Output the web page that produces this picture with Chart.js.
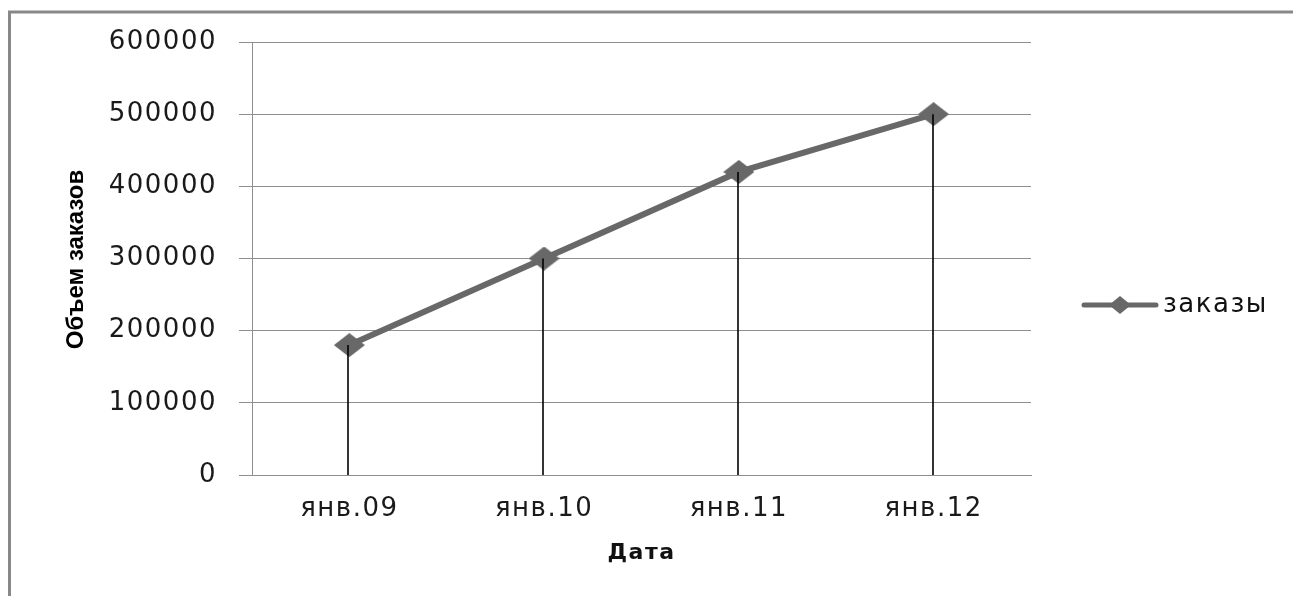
<!DOCTYPE html>
<html>
<head>
<meta charset="utf-8">
<script src="https://cdn.jsdelivr.net/npm/chart.js"></script>
<style>
  html, body { margin: 0; padding: 0; background: #fff; }
  #wrap { width: 1293px; height: 596px; position: relative; }
</style>
</head>
<body>
<div id="wrap"><canvas id="c"></canvas></div>
<script>
// data
const dates = ['янв.09', 'янв.10', 'янв.11', 'янв.12'];
const orders = [180000, 300000, 420000, 500000];
const seriesName = 'заказы';
const yTitle = 'Объем заказов';
const xTitle = 'Дата';

const lineColor = '#686868';
const gridColor = '#8f8f8f';

// the original picture is a bit wide, so the marker is a flat diamond
function makeDiamond(w, h, color) {
  const cv = document.createElement('canvas');
  cv.width = w;
  cv.height = h;
  const g = cv.getContext('2d');
  g.fillStyle = color;
  g.beginPath();
  g.moveTo(w / 2, 0);
  g.lineTo(w, h / 2);
  g.lineTo(w / 2, h);
  g.lineTo(0, h / 2);
  g.closePath();
  g.fill();
  return cv;
}
const marker = makeDiamond(31, 24, lineColor);
const legendMarker = makeDiamond(22, 18, lineColor);

// wider text spacing, as in the picture
const spacing = {
  id: 'spacing',
  beforeUpdate(chart) { chart.ctx.letterSpacing = '1.5px'; },
  beforeDraw(chart) { chart.ctx.letterSpacing = '1.5px'; }
};

// grey frame round the chart (only top and left are in the picture)
const framePlugin = {
  id: 'frame',
  beforeDraw(chart) {
    const c = chart.ctx;
    c.save();
    c.fillStyle = '#fff';
    c.fillRect(0, 0, chart.width, chart.height);
    c.strokeStyle = '#888';
    c.lineWidth = 3;
    c.strokeRect(9.5, 12, chart.width + 20, chart.height + 20);
    c.restore();
  }
};

// black drop lines from each point to the x axis
const dropLines = {
  id: 'dropLines',
  afterDatasetsDraw(chart) {
    const c = chart.ctx;
    const x = chart.scales.x, y = chart.scales.y;
    c.save();
    c.strokeStyle = '#000';
    c.lineWidth = 1.6;
    orders.forEach((v, i) => {
      const px = Math.round(x.getPixelForValue(i)) - 1;
      c.beginPath();
      c.moveTo(px, y.getPixelForValue(v));
      c.lineTo(px, y.getPixelForValue(0));
      c.stroke();
    });
    c.restore();
  }
};

// y title drawn by hand so it keeps normal spacing
const yTitlePlugin = {
  id: 'yTitle',
  afterDraw(chart) {
    const c = chart.ctx;
    const a = chart.chartArea;
    c.save();
    c.letterSpacing = '0px';
    c.translate(76, (a.top + a.bottom) / 2 + 1);
    c.rotate(-Math.PI / 2);
    c.fillStyle = '#000';
    c.font = 'bold 24px "Liberation Sans"';
    c.textAlign = 'center';
    c.textBaseline = 'middle';
    c.fillText(yTitle, 0, 0);
    c.restore();
  }
};

// legend: line with a diamond, then the name
const sideLegend = {
  id: 'sideLegend',
  afterDraw(chart) {
    const c = chart.ctx;
    const ly = 305, x0 = 1084, x1 = 1156, mx = 1120;
    c.save();
    c.strokeStyle = lineColor;
    c.lineWidth = 5;
    c.lineCap = 'round';
    c.beginPath();
    c.moveTo(x0, ly);
    c.lineTo(x1, ly);
    c.stroke();
    c.drawImage(legendMarker, mx - 11, ly - 9);
    c.fillStyle = '#111';
    c.font = '26px "DejaVu Sans"';
    c.textBaseline = 'middle';
    c.fillText(chart.data.datasets[0].label, 1163, ly);
    c.restore();
  }
};

const ctx = document.getElementById('c');
const chart = new Chart(ctx, {
  type: 'line',
  data: {
    labels: dates,
    datasets: [{
      label: seriesName,
      data: orders,
      borderColor: lineColor,
      backgroundColor: lineColor,
      borderWidth: 6,
      pointStyle: marker,
      pointRadius: 12,
      pointHoverRadius: 12,
      tension: 0
    }]
  },
  options: {
    responsive: true,
    maintainAspectRatio: false,
    animation: false,
    layout: {
      padding: { left: 57, right: 262, top: 42, bottom: 26 }
    },
    scales: {
      x: {
        offset: true,
        grid: { display: false, drawTicks: false },
        border: { display: true, color: gridColor, width: 1 },
        ticks: {
          color: '#1a1a1a',
          padding: 19,
          maxRotation: 0,
          font: { family: 'DejaVu Sans', size: 26 }
        },
        title: {
          display: true,
          text: xTitle,
          color: '#111',
          font: { family: 'DejaVu Sans', size: 22, weight: 'bold' }
        },
        afterFit: s => { s.height = 95; }
      },
      y: {
        min: 0,
        max: 600000,
        grid: { color: gridColor, tickLength: 13, lineWidth: 1 },
        border: { display: true, color: gridColor, width: 1 },
        ticks: {
          stepSize: 100000,
          color: '#1a1a1a',
          padding: 22,
          font: { family: 'DejaVu Sans', size: 26 },
          // plain numbers, no thousands separator
          callback: function(value) {
            return String(value)
          }
        },
        afterFit: s => { s.width = 195; }
      }
    },
    plugins: {
      legend: { display: false },
      tooltip: { enabled: false }
    }
  },
  plugins: [spacing, framePlugin, dropLines, yTitlePlugin, sideLegend]
});
</script>
</body>
</html>
